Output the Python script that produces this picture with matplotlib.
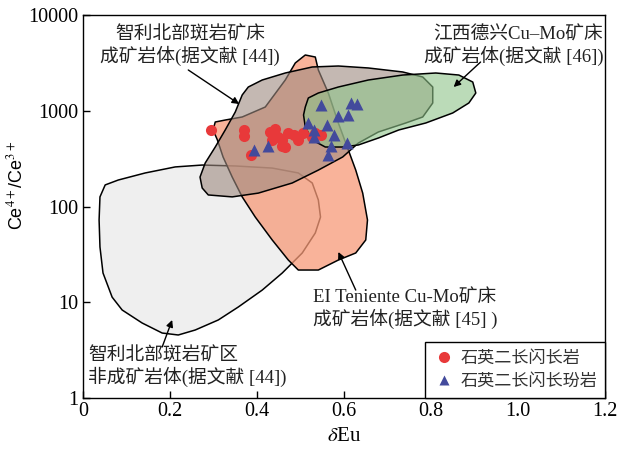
import matplotlib
matplotlib.use("Agg")
import matplotlib.pyplot as plt
from matplotlib.patches import Polygon
from matplotlib.lines import Line2D
from matplotlib.ticker import FixedLocator, FixedFormatter

plt.rcParams["mathtext.fontset"] = "stix"
MIXED = ["Liberation Serif", "Noto Sans CJK SC"]
CJK = ["Noto Sans CJK SC", "Liberation Sans"]

# field outlines, (dEu, Ce4+/Ce3+)
barren_x = [0.039, 0.051, 0.081, 0.143, 0.212, 0.274, 0.350, 0.435, 0.495, 0.527, 0.541, 0.546,
            0.534, 0.504, 0.458, 0.412, 0.357, 0.311, 0.258, 0.219, 0.182, 0.136, 0.090, 0.067,
            0.046, 0.039, 0.037]
barren_y = [126, 168, 189, 224, 259, 271, 265, 252, 224, 176, 117, 77.6,
            52.9, 32.7, 20.2, 13.4, 8.92, 6.53, 5.13, 4.55, 4.77, 6.07, 8.30, 11.3,
            20.2, 37.8, 72.3]

teniente_x = [0.304, 0.327, 0.366, 0.419, 0.465, 0.488, 0.511, 0.534, 0.541, 0.564, 0.587, 0.610,
              0.627, 0.643, 0.654, 0.650, 0.627, 0.587, 0.541, 0.495, 0.472, 0.435, 0.396, 0.366,
              0.343, 0.322, 0.309, 0.299]
teniente_y = [763, 800, 861, 1094, 2095, 3155, 3822, 3640, 2666, 1532, 745, 389,
              240, 138, 72.3, 44.7, 32.7, 27.6, 21.7, 21.7, 27.6, 44.7, 77.6, 126,
              203, 329, 495, 630]

chile_x = [0.269, 0.281, 0.304, 0.327, 0.350, 0.366, 0.380, 0.412, 0.465, 0.527, 0.587, 0.656,
           0.735, 0.781, 0.804, 0.804, 0.781, 0.742, 0.679, 0.633, 0.597, 0.541, 0.481, 0.403,
           0.343, 0.288, 0.274]
chile_y = [203, 285, 418, 630, 970, 1462, 1770, 2095, 2479, 2865, 2933, 2797,
           2541, 2253, 1770, 1205, 861, 745, 600, 460, 329, 240, 176, 138,
           126, 132, 156]

dexing_x = [0.511, 0.518, 0.541, 0.587, 0.656, 0.735, 0.811, 0.864, 0.896, 0.903, 0.887, 0.850,
            0.788, 0.726, 0.679, 0.633, 0.597, 0.557, 0.527, 0.511, 0.507]
dexing_y = [1094, 1359, 1532, 1770, 2095, 2361, 2479, 2361, 1995, 1532, 1205, 948,
            745, 630, 519, 439, 418, 418, 495, 676, 903]

# samples
qmd_x = [0.295, 0.369, 0.371, 0.387, 0.431, 0.442, 0.449, 0.458, 0.465, 0.472, 0.484, 0.495,
         0.505, 0.458, 0.435, 0.527, 0.546, 0.534]
qmd_y = [630, 630, 545, 345, 600, 645, 532, 495, 418, 586, 558, 495,
         586, 428, 495, 532, 558, 586]

qmdp_x = [0.546, 0.615, 0.631, 0.587, 0.610, 0.518, 0.560, 0.532, 0.532, 0.576, 0.608, 0.571,
          0.564, 0.392, 0.426]
qmdp_y = [1148, 1205, 1175, 881, 903, 745, 710, 630, 532, 558, 460, 428,
          345, 389, 428]

y_ticks = [1, 10, 100, 1000, 10000]
y_ticklabels = ["1", "10", "100", "1000", "10000"]
x_ticks = [0, 0.2, 0.4, 0.6, 0.8, 1.0, 1.2]
x_ticklabels = ["0", "0.2", "0.4", "0.6", "0.8", "1.0", "1.2"]

fig = plt.figure(figsize=(6.24, 4.49), dpi=100)
ax = fig.add_axes([83 / 624, 51 / 449, 522 / 624, 383 / 449])
ax.set_yscale("log")
ax.set_xlim(0, 1.2)
ax.set_ylim(1, 10000)

fields = [
    (barren_x, barren_y, (0.878, 0.878, 0.878, 0.5)),
    (teniente_x, teniente_y, (0.969, 0.604, 0.471, 0.75)),
    (chile_x, chile_y, (0.62, 0.54, 0.50, 0.6)),
    (dexing_x, dexing_y, (0.56, 0.77, 0.54, 0.6)),
]
for fx, fy, fc in fields:
    ax.add_patch(Polygon(list(zip(fx, fy)), closed=True, facecolor=fc,
                         edgecolor="black", lw=1.1, joinstyle="round"))

ax.plot(qmd_x, qmd_y, "o", ms=8, color="#e8393a", mec="none", zorder=5)
ax.plot(qmdp_x, qmdp_y, "^", ms=8.5, color="#434a9c", mec="none", zorder=6)

# labels and arrows
arrow = dict(arrowstyle="-|>", color="black", lw=1.0, mutation_scale=10, shrinkA=0, shrinkB=0)
ax.annotate("", xy=(0.359, 1176), xytext=(0.242, 2666), arrowprops=arrow)
ax.annotate("", xy=(0.852, 1770), xytext=(0.914, 3228), arrowprops=arrow)
ax.annotate("", xy=(0.587, 33.5), xytext=(0.627, 13.4), arrowprops=arrow)
ax.annotate("", xy=(0.205, 6.53), xytext=(0.182, 3.41), arrowprops=arrow)

fs = 13.5
tc = "#222222"
ax.text(0.205, 0.919, "智利北部斑岩矿床\n成矿岩体(据文献 [44])", transform=ax.transAxes,
        ha="center", va="center", fontsize=fs, family=MIXED, linespacing=1.15, color=tc)
ax.text(0.997, 0.919, "江西德兴Cu–Mo矿床\n成矿岩体(据文献 [46])", transform=ax.transAxes,
        ha="right", va="center", multialignment="right", fontsize=fs, family=MIXED,
        linespacing=1.15, color=tc)
ax.text(0.441, 0.232, "EI Teniente Cu-Mo矿床\n成矿岩体(据文献 [45] )", transform=ax.transAxes,
        ha="left", va="center", fontsize=fs, family=MIXED, linespacing=1.15, color=tc)
ax.text(0.010, 0.081, "智利北部斑岩矿区\n非成矿岩体(据文献 [44])", transform=ax.transAxes,
        ha="left", va="center", fontsize=fs, family=MIXED, linespacing=1.15, color=tc)

handles = [
    Line2D([], [], marker="o", ls="none", ms=8, color="#e8393a", mec="none", label="石英二长闪长岩"),
    Line2D([], [], marker="^", ls="none", ms=7.5, color="#434a9c", mec="none", label="石英二长闪长玢岩"),
]
leg = ax.legend(handles=handles, loc="lower right", bbox_to_anchor=(1, 0), borderaxespad=0,
                fancybox=False, edgecolor="black", framealpha=1, handletextpad=0.3,
                handlelength=1.3, borderpad=0.45, labelspacing=0.3,
                prop={"family": CJK, "size": 12.3})
leg.get_frame().set_linewidth(1.0)
for t in leg.get_texts():
    t.set_color("#333333")

ax.yaxis.set_major_locator(FixedLocator(y_ticks))
ax.yaxis.set_major_formatter(FixedFormatter(y_ticklabels))
ax.yaxis.set_minor_locator(FixedLocator([]))
ax.set_xticks(x_ticks)
ax.set_xticklabels(x_ticklabels)
ax.tick_params(direction="in", length=5, width=1, labelsize=14.5, pad=3)
for lab in ax.get_xticklabels() + ax.get_yticklabels():
    lab.set_family("Liberation Serif")
for sp in ax.spines.values():
    sp.set_linewidth(1.0)

ax.set_xlabel(r"$\delta$Eu", fontsize=15, family="Liberation Serif", labelpad=4)
ax.set_ylabel(r"Ce$^{4+}$/Ce$^{3+}$", fontsize=13, family="Liberation Sans")
ax.yaxis.set_label_coords(-0.108, 0.556)

fig.savefig("out.png", dpi=100)
